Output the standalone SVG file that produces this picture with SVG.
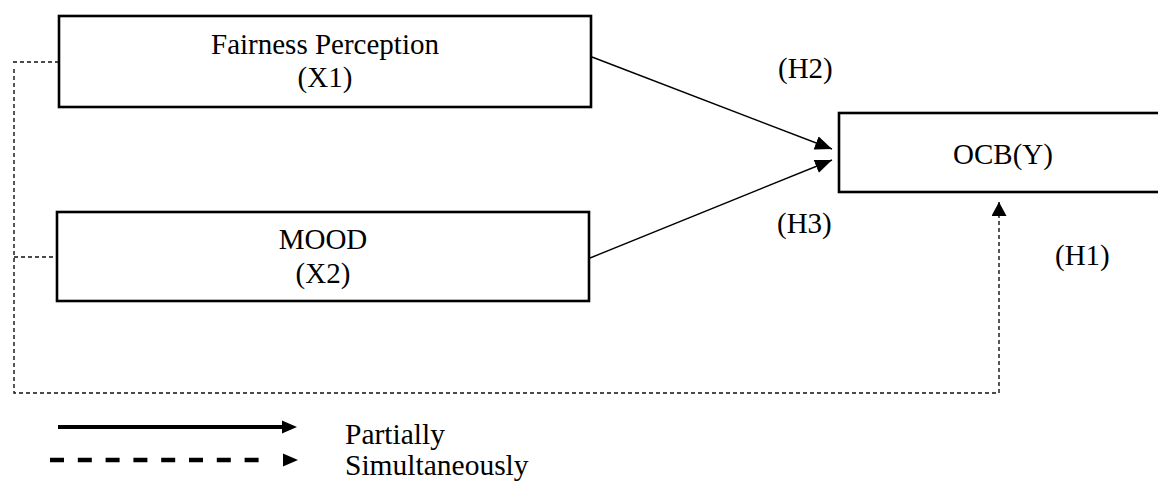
<svg xmlns="http://www.w3.org/2000/svg" width="1158" height="483" viewBox="0 0 1158 483">
<style>
  .box { fill: #ffffff; stroke: #000000; stroke-width: 2.6; }
  .lbl { font-family: "Liberation Serif", "Times New Roman", serif; font-size: 29px; fill: #000000; }
  .mid { text-anchor: middle; }
  .leg { font-family: "Liberation Serif", "Times New Roman", serif; font-size: 29.5px; fill: #000000; }
  .solid { fill: none; stroke: #000000; stroke-width: 1.4; }
  .dash { fill: none; stroke: #111111; stroke-width: 1.4; stroke-dasharray: 4 3; }
</style>
<defs>
  <marker id="ah" markerUnits="userSpaceOnUse" markerWidth="18" markerHeight="15" refX="17" refY="7" orient="auto">
    <path d="M0,0 L17,7 L0,14 Z" fill="#000000"/>
  </marker>
  <marker id="ahd" markerUnits="userSpaceOnUse" markerWidth="16" markerHeight="16" refX="14" refY="7.5" orient="auto">
    <path d="M0,0 L14,7.5 L0,15 Z" fill="#000000"/>
  </marker>
</defs>
<g id="connectors">
  <line class="solid" x1="592" y1="57" x2="832" y2="149" marker-end="url(#ah)"/>
  <line class="solid" x1="590" y1="258" x2="832" y2="160" marker-end="url(#ah)"/>
  <line class="dash" x1="13" y1="62" x2="62" y2="62"/>
  <line class="dash" x1="14" y1="257" x2="60" y2="257"/>
  <polyline class="dash" points="14,69 14,393 999,393 999,202" marker-end="url(#ahd)"/>
</g>
<g id="fairness">
  <rect class="box" x="59" y="16" width="532" height="91"/>
  <text class="lbl mid" x="325" y="54">Fairness Perception</text>
  <text class="lbl mid" x="325" y="87">(X1)</text>
</g>
<g id="mood">
  <rect class="box" x="57" y="212" width="532" height="89"/>
  <text class="lbl mid" x="323" y="249">MOOD</text>
  <text class="lbl mid" x="323" y="283">(X2)</text>
</g>
<g id="ocb">
  <rect class="box" x="839" y="113" width="330" height="79"/>
  <text class="lbl mid" x="1003" y="164">OCB(Y)</text>
</g>
<g id="hypotheses">
  <text class="lbl" x="778" y="78">(H2)</text>
  <text class="lbl" x="777" y="233">(H3)</text>
  <text class="lbl" x="1055" y="265">(H1)</text>
</g>
<g id="legend">
  <line x1="58" y1="427" x2="284" y2="427" stroke="#000000" stroke-width="4"/>
  <polygon points="282,420.5 297,427 282,433.5" fill="#000000"/>
  <line x1="50" y1="460" x2="260" y2="460" stroke="#000000" stroke-width="4.5" stroke-dasharray="14 13.8"/>
  <polygon points="283,453.5 298,460 283,466.5" fill="#000000"/>
  <text class="leg" x="345" y="444">Partially</text>
  <text class="leg" x="345" y="475">Simultaneously</text>
</g>
</svg>
